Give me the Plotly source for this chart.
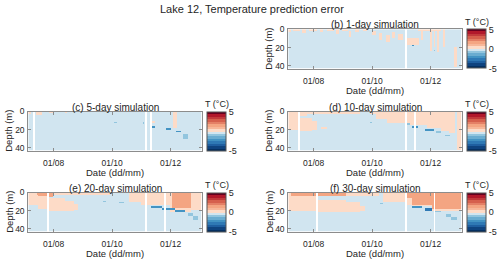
import numpy as np
import pandas as pd
import plotly.graph_objects as go

# ---------------- data ----------------
start_date = "2018-07-06"
n_days = 181
depth_max = 43.0
depth_step = 0.5
background_error = -0.3
gap_len = 2

panel_titles = ["(b) 1-day simulation", "(c) 5-day simulation", "(d) 10-day simulation",
                "(e) 20-day simulation", "(f) 30-day simulation"]

x_tick_dates = ["2018-08-01", "2018-10-01", "2018-12-01"]
x_tick_labels = ["01/08", "01/10", "01/12"]
y_ticks = [0, 20, 40]
cbar_ticks = [-5, 0, 5]
cbar_labels = ["-5", "0", "5"]

# patches of error: (day_from, day_to, depth_top, depth_bottom, error degC)
rects_b = [
    (0, 3, 0, 3, 0.3), (5, 12, 0, 2, 0.3), (14, 18, 0, 4, 0.3), (22, 30, 0, 2, 0.3),
    (33, 36, 0, 3, 0.3), (40, 48, 0, 2, 0.3), (50, 53, 0, 5, 0.3), (56, 62, 0, 2, 0.3),
    (63, 66, 2, 9, 0.3), (70, 74, 0, 3, 0.3), (78, 82, 0, 2, 0.3), (88, 92, 2, 6, 0.3),
    (95, 98, 4, 12, 0.3), (102, 106, 6, 14, 0.3), (108, 112, 3, 10, 0.3), (115, 120, 5, 12, 0.3),
    (124, 137, 10, 17, 0.3), (129, 131, 17, 18.5, -2.2), (136, 160, 0, 2, 0.3),
    (139, 141, 0, 12, 0.3), (148, 150, 0, 24, 0.3), (152, 154, 2, 20, 0.3),
    (156, 158, 0, 25, 0.3), (162, 164, 0, 20, 0.3), (152, 153, 23, 24, -0.9),
    (173, 176, 20, 42, 0.3),
]
rects_c = [
    (0, 3, 0, 3, 0.3), (8, 14, 1, 4, 0.3), (22, 26, 0, 2, 0.3), (38, 40, 0, 2, 0.3),
    (79, 81, 10, 11, -0.9), (90, 93, 12, 13, -0.9), (120, 121, 12, 14, -0.9),
    (129, 133, 10, 13, 0.3), (128, 133, 16, 18, -2.2), (144, 149, 18, 20, -2.2),
    (151, 156, 0, 18, 0.3), (155, 160, 21, 23, -2.2), (162, 167, 25, 30, -0.9),
]
rects_d = [
    (0, 75, 0, 2.5, 0.3), (0, 20, 0, 5, 0.3), (0, 12, 5, 20, 0.3), (12, 25, 7, 22, 0.3),
    (25, 30, 10, 20, 0.3), (34, 41, 17, 19, 0.3), (77, 80, 10, 11, -0.9), (85, 88, 12, 13, -0.9),
    (85, 92, 0, 3, 0.3), (92, 103, 0, 8, 0.3), (103, 122, 0, 13, 0.3), (122, 145, 0, 15, 0.3),
    (145, 160, 0, 18, 0.3), (160, 168, 0, 22, 0.3), (168, 174, 0, 24, 0.3), (177, 181, 0, 42, 0.3),
    (124, 127, 13, 14.5, -0.9), (129, 136, 16, 18, -2.2), (143, 152, 19, 21, -2.2),
    (155, 160, 22, 24, -0.9), (164, 169, 25.5, 27, -0.9),
]
rects_e = [
    (0, 85, 0, 3, 0.3), (9, 26, 1, 5, 1.5), (0, 10, 3, 14, 0.3), (10, 22, 4, 18, 0.3),
    (22, 38, 6, 20, 0.3), (38, 48, 9, 20, 0.3), (48, 52, 13, 19, 0.3), (78, 81, 9, 10.5, -0.9),
    (95, 100, 11, 12, -0.9), (105, 118, 0, 10, 0.3), (118, 148, 0, 14, 0.3), (148, 170, 0, 21, 0.3),
    (150, 170, 0, 17, 1.5), (170, 181, 0, 19, 0.3), (128, 140, 15, 17, -2.2), (140, 153, 17, 19, -2.2),
    (153, 164, 19, 21.5, -2.2), (167, 172, 23, 26, -0.9), (172, 178, 26, 30, -0.9),
]
rects_f = [
    (0, 30, 0, 5, 0.3), (30, 95, 0, 4, 0.3), (3, 60, 1, 4, 1.5), (0, 30, 5, 20, 0.3),
    (30, 60, 8, 21, 0.3), (60, 75, 10, 21, 0.3), (75, 80, 15, 20, 0.3), (77, 80, 10, 11, -0.9),
    (96, 99, 12, 13, -0.9), (99, 122, 0, 11, 0.3), (122, 129, 0, 14, 0.3), (122, 129, 0, 6, 1.5),
    (129, 150, 0, 15, 0.3), (129, 150, 0, 14, 1.5), (150, 181, 0, 20, 0.3), (150, 181, 0, 18, 1.5),
    (129, 140, 15, 17, -2.2), (143, 150, 17.5, 20, -2.8), (152, 160, 20, 22, -0.9),
    (165, 170, 24, 27, -0.9), (170, 176, 27, 30, -0.9),
]
gaps_b = [122]
gaps_c = [5, 122, 127]
gaps_d = [10, 122, 132]
gaps_e = [20, 122, 142]
gaps_f = [29, 122, 152]

panel_rects = [rects_b, rects_c, rects_d, rects_e, rects_f]
panel_gaps = [gaps_b, gaps_c, gaps_d, gaps_e, gaps_f]

# ---------------- style ----------------
band_colors = ["#053061", "#0f437f", "#1f5fa0", "#2f79b5", "#4393c3", "#6aacd0", "#92c5de", "#d1e5f0",
               "#fddbc7", "#f7b799", "#f4a582", "#e48066", "#d6604d", "#c23a3b", "#b2182b", "#67001f"]
nb = len(band_colors)
colorscale = []
for i, c in enumerate(band_colors):
    colorscale += [[i / nb, c], [(i + 1) / nb, c]]

W, H = 500, 263
FONT = "Liberation Sans, Arial, sans-serif"
TXT = "#262626"
AX = "#8c8c8c"


def fx(px):
    return px / W


def fy(py):
    return 1 - py / H


cols = {"L": (28.3, 201.7), "R": (288.3, 461.7)}
rows = {1: (29.3, 68.5), 2: (111.5, 150.5), 3: (192.5, 231.5)}
cbar_left = {"L": 207, "R": 467}
slots = [(1, "R"), (2, "L"), (2, "R"), (3, "L"), (3, "R")]

dates = pd.date_range(start_date, periods=n_days, freq="D")
depths = np.arange(depth_step / 2, depth_max, depth_step)
day_idx = np.arange(n_days)


def build(rects, gaps):
    z = np.full((len(depths), n_days), background_error)
    for d0, d1, top, bot, val in rects:
        m = ((depths >= top) & (depths < bot))[:, None] & ((day_idx >= d0) & (day_idx < d1))[None, :]
        z[m] = val
    for g in gaps:
        z[:, g:g + gap_len] = np.nan
    return [[None if np.isnan(v) else float(v) for v in row] for row in z]


fig = go.Figure()
annotations = []
layout = {}
xr = [dates[0] - pd.Timedelta(hours=12), dates[-1] + pd.Timedelta(hours=12)]

for k in range(5):
    r, c = slots[k]
    x0, x1 = cols[c]
    y0, y1 = rows[r]
    xa = "x" if k == 0 else f"x{k + 1}"
    ya = "y" if k == 0 else f"y{k + 1}"
    xkey = "xaxis" if k == 0 else f"xaxis{k + 1}"
    ykey = "yaxis" if k == 0 else f"yaxis{k + 1}"
    fig.add_trace(go.Heatmap(
        z=build(panel_rects[k], panel_gaps[k]), x=dates, y=depths, xaxis=xa, yaxis=ya,
        colorscale=colorscale, zmin=-5, zmax=5, hoverinfo="skip",
        colorbar=dict(x=fx(cbar_left[c]), xanchor="left", xpad=0, ypad=0,
                      thickness=19, thicknessmode="pixels",
                      len=(y1 - y0) / H, lenmode="fraction",
                      y=fy((y0 + y1) / 2), yanchor="middle",
                      tickvals=cbar_ticks, ticktext=cbar_labels, ticks="",
                      outlinewidth=1, outlinecolor="#555555",
                      tickfont=dict(family=FONT, size=9, color=TXT)),
    ))
    common = dict(showline=True, linecolor=AX, linewidth=1, mirror="ticks", ticks="inside",
                  ticklen=3, tickcolor=AX, showgrid=False, zeroline=False, automargin=False,
                  tickfont=dict(family=FONT, size=8.5, color=TXT))
    layout[xkey] = dict(domain=[fx(x0), fx(x1)], anchor=ya, range=xr, type="date",
                        tickvals=x_tick_dates, ticktext=x_tick_labels, ticklabelstandoff=4, **common)
    layout[ykey] = dict(domain=[fy(y1), fy(y0)], anchor=xa, range=[depth_max, 0],
                        tickvals=y_ticks, ticklabelstandoff=1, **common)
    xc = (x0 + x1) / 2
    annotations += [
        dict(text=panel_titles[k], x=fx(xc), y=fy(y0 - 4.5), font=dict(size=10)),
        dict(text="Date (dd/mm)", x=fx(xc), y=fy(y1 + 22), font=dict(size=9.5)),
        dict(text="Depth (m)", x=fx(x0 - 19.5), y=fy((y0 + y1) / 2), textangle=-90, font=dict(size=9.5)),
        dict(text="T (°C)", x=fx(cbar_left[c] + 9.5), y=fy(y0 - 7.5), font=dict(size=9)),
    ]

annotations.append(dict(text="Lake 12, Temperature prediction error", x=fx(252), y=fy(9), font=dict(size=11)))
for a in annotations:
    a.update(xref="paper", yref="paper", showarrow=False, xanchor="center", yanchor="middle")
    a["font"].update(family=FONT, color=TXT)

fig.update_layout(width=W, height=H, margin=dict(l=0, r=0, t=0, b=0, pad=0, autoexpand=False),
                  paper_bgcolor="white", plot_bgcolor="white", showlegend=False,
                  annotations=annotations, **layout)
fig.write_html("out.html", config={"displayModeBar": False},
               post_script="document.body.style.margin='0px';document.body.style.overflow='hidden';")
